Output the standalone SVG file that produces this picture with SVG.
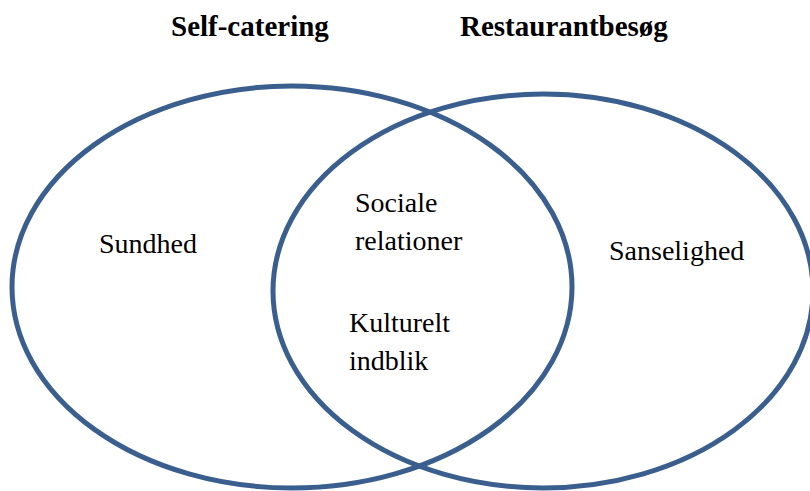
<svg xmlns="http://www.w3.org/2000/svg" width="810" height="491" viewBox="0 0 810 491">
<style>
.ring{fill:none;stroke:#3A5F8E;stroke-width:5}
.t{font-family:"Liberation Serif","Times New Roman",Times,serif;font-size:28px;font-weight:normal;fill:#000}
.h{font-family:"Liberation Serif","Times New Roman",Times,serif;font-size:29px;font-weight:bold;fill:#000}
</style>
<rect width="810" height="491" fill="#fff"/>
<g id="connectors"></g>
<g id="set-self-catering">
<ellipse class="ring" cx="292" cy="287" rx="280" ry="201"/>
<text class="h" x="171" y="36">Self-catering</text>
</g>
<g id="set-restaurantbesog">
<ellipse class="ring" cx="543" cy="291" rx="270" ry="197"/>
<text class="h" x="460" y="36">Restaurantbesøg</text>
</g>
<g id="sundhed"><text class="t" x="99" y="253">Sundhed</text></g>
<g id="sociale"><text class="t" x="355" y="212">Sociale</text><text class="t" x="355" y="250">relationer</text></g>
<g id="kulturelt"><text class="t" x="349" y="332">Kulturelt</text><text class="t" x="349" y="370">indblik</text></g>
<g id="sanselighed"><text class="t" x="609" y="260">Sanselighed</text></g>
</svg>
